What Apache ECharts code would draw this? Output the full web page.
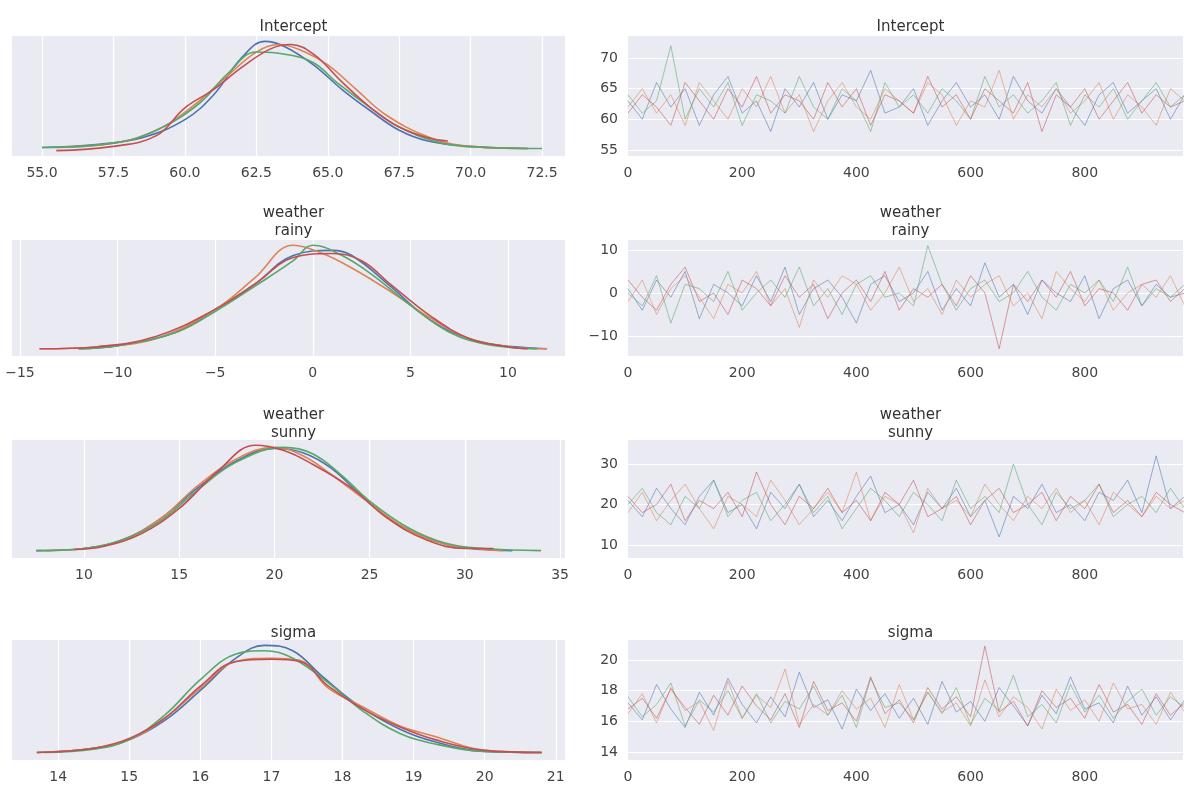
<!DOCTYPE html>
<html>
<head>
<meta charset="utf-8">
<script src="https://cdn.jsdelivr.net/npm/echarts@6/dist/echarts.min.js"></script>
<style>html,body{margin:0;padding:0;background:#fff}#chart{width:1200px;height:801px}</style>
</head>
<body>
<div id="chart"></div>
<script>
// 参数名
const PARAMS = ['Intercept', 'weather\nrainy', 'weather\nsunny', 'sigma'];
const COLORS = ['#4c72b0', '#dd8452', '#55a868', '#c44e52'];

// 密度曲线 [x, 相对高度]，每个参数 4 条链
const densIntercept = [
    [[55,0.01],[57,0.04],[58.5,0.1],[60,0.27],[61,0.5],[62,0.85],[62.8,1.0],[63.5,0.95],[64.5,0.78],[65.5,0.55],[66.5,0.35],[67.5,0.17],[68.5,0.07],[70,0.02],[72,0.0]],
    [[55.5,0.01],[57.5,0.05],[59,0.17],[60.3,0.4],[61.5,0.68],[62.5,0.9],[63.3,0.97],[64.2,0.9],[65,0.78],[66,0.55],[67,0.32],[68.5,0.11],[70,0.02],[72,0.0]],
    [[55,0.01],[57.5,0.05],[59,0.17],[60.5,0.42],[61.5,0.7],[62.5,0.9],[63.5,0.88],[64.5,0.8],[65.3,0.62],[66.5,0.38],[67.5,0.2],[69,0.05],[70.5,0.01],[72.5,0.0]],
    [[55.5,-0.02],[57.5,0.02],[59,0.12],[60,0.38],[61,0.55],[62,0.76],[63,0.93],[63.7,0.97],[64.5,0.88],[65.5,0.62],[66.5,0.38],[67.5,0.2],[68.5,0.1],[69.2,0.07]]
];
const densRainy = [
    [[-12,0],[-10,0.03],[-7,0.16],[-5,0.38],[-3,0.62],[-1,0.9],[1,0.95],[2,0.9],[4,0.6],[5.5,0.35],[7,0.17],[9,0.05],[11,0.01],[12,0]],
    [[-14,0],[-11,0.02],[-8,0.1],[-5,0.38],[-3,0.68],[-1,1.0],[0.5,0.92],[2,0.78],[4,0.55],[6,0.3],[8,0.1],[10,0.02],[12,0]],
    [[-12,0],[-10,0.03],[-7,0.16],[-5,0.36],[-3,0.6],[-1,0.85],[0,1.0],[1.5,0.9],[3,0.72],[5,0.42],[7,0.16],[9,0.04],[11.5,0]],
    [[-14,0],[-11,0.02],[-8,0.12],[-5,0.38],[-3,0.62],[-1,0.88],[1,0.92],[2.5,0.85],[4,0.62],[6,0.32],[8,0.1],[10,0.02],[11,0]]
];
const densSunny = [
    [[7.5,0],[10,0.02],[12,0.1],[14,0.3],[16,0.6],[18,0.85],[20,0.97],[21.5,0.93],[23,0.78],[25,0.45],[27,0.2],[29,0.06],[31,0.01],[32.5,0]],
    [[8,0],[10,0.02],[12,0.1],[14,0.3],[16,0.62],[18,0.87],[20,0.98],[21.5,0.9],[23,0.72],[25,0.45],[27,0.2],[29,0.06],[31,0.01],[32,0]],
    [[7.5,0],[10,0.02],[12,0.1],[14,0.28],[16,0.58],[18,0.84],[20.5,0.98],[22,0.92],[23.5,0.72],[25,0.47],[27,0.22],[29,0.07],[31,0.02],[34,0]],
    [[9.5,0.01],[11,0.04],[13,0.16],[15,0.4],[17,0.75],[19,1.0],[20.5,0.95],[22,0.82],[24,0.6],[26,0.3],[28,0.1],[30,0.02],[31.5,0.02]]
];
const densSigma = [
    [[13.7,0],[14.5,0.04],[15,0.12],[15.5,0.3],[16,0.58],[16.5,0.88],[16.9,1.0],[17.3,0.95],[17.7,0.72],[18.2,0.45],[18.8,0.22],[19.3,0.1],[20,0.01],[20.8,0]],
    [[13.7,0],[14.5,0.04],[15,0.12],[15.5,0.32],[16,0.6],[16.5,0.85],[17,0.88],[17.4,0.86],[17.8,0.6],[18.3,0.42],[18.8,0.25],[19.3,0.15],[20,0.02],[20.8,0]],
    [[13.8,0],[14.5,0.03],[15,0.12],[15.5,0.35],[16,0.68],[16.5,0.92],[16.9,0.95],[17.3,0.88],[17.8,0.65],[18.3,0.38],[18.8,0.18],[19.3,0.08],[20,0.01],[20.8,0]],
    [[13.7,0],[14.5,0.04],[15,0.13],[15.5,0.32],[16,0.62],[16.5,0.85],[17,0.87],[17.4,0.85],[17.8,0.62],[18.3,0.4],[18.8,0.24],[19.3,0.12],[20,0.02],[20.8,0]]
];

// 迹线（抽样值，每 25 次迭代一点）
const TRACE_STEP = 25;
const traceIntercept = [
    [63,60,66,62,65,59,64,67,61,63,58,65,62,66,60,64,63,68,61,62,65,59,63,66,62,64,60,67,63,61,65,62,59,64,66,61,63,65,60,64],
    [62,65,61,64,59,66,63,60,65,62,67,61,64,58,63,66,62,60,65,63,61,66,64,59,63,62,68,60,64,62,65,61,63,66,60,64,62,59,65,63],
    [64,61,63,72,60,65,62,66,59,64,63,61,67,62,60,65,63,58,66,62,64,61,65,63,60,67,62,64,61,63,66,59,64,62,65,60,63,66,62,64],
    [61,64,62,59,66,63,60,65,62,67,61,64,63,60,66,62,65,59,64,63,61,67,62,64,60,65,63,61,66,58,64,62,65,60,63,66,61,64,62,63]
];
const traceRainy = [
    [1,-4,3,-1,5,-6,2,0,-3,4,-2,6,-5,1,3,-1,-7,2,4,-2,0,5,-4,1,-3,7,-1,2,-5,3,0,-2,4,-6,1,3,-3,2,-1,0],
    [-2,3,-5,1,4,-1,-6,2,0,5,-3,1,-8,3,-1,4,2,-4,0,6,-2,1,-5,3,-1,2,4,-3,0,-6,5,1,-2,3,-4,0,2,-1,4,-3],
    [0,-3,4,-7,2,1,-2,5,-4,0,3,-1,6,-3,1,-5,2,4,-1,0,-3,11,2,-4,1,3,-2,0,5,-1,-4,2,0,3,-2,6,-3,1,-1,2],
    [3,-1,-4,2,6,-2,0,-5,3,1,-3,4,-1,2,-6,0,3,-2,5,-4,1,-1,2,-3,4,0,-13,2,-2,3,-1,5,-3,1,0,-4,2,3,-2,1]
];
const traceSunny = [
    [21,17,24,19,15,22,26,18,20,14,23,19,25,17,21,16,22,27,18,20,15,23,19,24,17,21,12,22,19,25,18,20,16,23,21,26,18,32,19,22],
    [18,23,16,21,25,19,14,22,20,17,26,21,15,19,23,18,28,16,22,20,13,24,19,21,17,25,20,16,22,19,24,18,21,15,23,20,17,22,19,21],
    [20,24,18,15,22,19,26,17,21,23,16,20,25,18,22,14,19,24,21,17,23,20,16,26,19,22,18,30,20,15,23,19,21,25,17,20,22,18,24,19],
    [22,18,20,25,16,21,19,23,17,28,20,15,22,19,24,18,21,16,23,20,26,17,19,22,15,21,24,18,20,23,16,22,19,25,18,21,17,23,20,18]
];
const traceSigma = [
    [17.2,16.1,18.4,16.8,15.6,17.9,16.4,18.8,17.1,15.9,17.6,16.3,19.2,16.9,17.4,15.5,18.1,16.7,17.8,16.2,17.5,15.8,18.6,16.6,17.3,16.0,18.2,17.0,15.7,17.7,16.5,18.9,16.8,17.2,15.9,18.3,16.4,17.6,16.1,17.4],
    [16.5,17.8,15.9,18.2,16.7,17.3,15.4,18.6,16.2,17.7,16.9,19.4,15.8,17.1,16.4,18.0,16.8,17.5,15.6,18.4,16.1,17.9,16.6,17.2,15.7,18.7,16.3,17.6,16.9,15.5,18.1,16.7,17.4,16.0,18.5,16.8,17.1,15.8,17.9,16.6],
    [17.6,16.3,17.1,18.5,15.7,17.4,16.6,18.0,16.2,17.8,15.9,17.3,16.8,18.3,16.4,17.7,15.6,18.8,16.9,17.2,16.1,17.9,16.5,18.2,15.8,17.5,16.7,19.0,16.3,17.1,15.9,18.4,16.6,17.7,16.2,17.3,18.1,16.4,17.6,16.9],
    [16.8,17.5,16.2,18.1,16.9,15.8,17.7,16.4,18.3,17.0,16.1,17.8,15.6,18.6,16.7,17.2,16.0,18.9,16.5,17.4,15.9,18.2,16.8,17.6,16.3,20.9,16.6,17.3,15.7,18.0,16.9,17.5,16.2,18.4,16.6,17.1,15.8,17.8,16.4,17.2]
];

// 左侧密度图 x 轴刻度
const densTicks = [
    [55,57.5,60,62.5,65,67.5,70,72.5],
    [-15,-10,-5,0,5,10],
    [10,15,20,25,30,35],
    [14,15,16,17,18,19,20,21]
];
const densRange = [[53.95,73.3],[-15.41,12.92],[6.22,35.26],[13.35,21.13]];
// 右侧迹线 y 轴
const traceRange = [[54.0,73.6],[-14.65,12.3],[6.8,35.9],[13.48,21.3]];
const traceInterval = [5,10,10,2];
const traceTicks = [[55,60,65,70],[-10,0,10],[10,20,30],[14,16,18,20]];

const densAll = [densIntercept, densRainy, densSunny, densSigma];
const traceAll = [traceIntercept, traceRainy, traceSunny, traceSigma];

const rowTops = [36, 240, 440, 640];
const rowHeights = [120, 116, 118, 120];
const titleTops = [13, 199, 401, 619];

const labelStyle = { color: '#444', fontSize: 14, fontFamily: 'DejaVu Sans' };
const grids = [], xAxes = [], yAxes = [], series = [], titles = [];

function fmtTick(v) {
    if (v < 0) return '\u2212' + Math.abs(v);
    return String(v);
}

for (let r = 0; r < 4; r++) {
    // 左：密度
    let gi = grids.length;
    grids.push({ left: 12, top: rowTops[r], width: 553, height: rowHeights[r], show: true, backgroundColor: '#eaeaf2', borderWidth: 0 });
    xAxes.push({
        gridIndex: gi, type: 'value', min: densRange[r][0], max: densRange[r][1],
        axisLine: { show: false }, axisTick: { show: false, customValues: densTicks[r] },
        axisLabel: Object.assign({ customValues: densTicks[r], margin: 10,
            formatter: v => r === 0 ? v.toFixed(1) : fmtTick(v) }, labelStyle),
        splitLine: { show: true, lineStyle: { color: '#fff', width: 1.2 } }
    });
    yAxes.push({ gridIndex: gi, type: 'value', min: -0.07, max: 1.05, show: false, splitLine: { show: false } });
    densAll[r].forEach((d, c) => series.push({
        type: 'line', xAxisIndex: gi, yAxisIndex: gi, data: d, smooth: 0.4, showSymbol: false,
        lineStyle: { color: COLORS[c], width: 1.6 }, z: 3
    }));
    titles.push({ text: PARAMS[r], left: 12 + 553 / 2, top: titleTops[r], textAlign: 'center',
        textStyle: { color: '#333', fontSize: 15, fontWeight: 'normal', fontFamily: 'DejaVu Sans', lineHeight: 18 } });

    // 右：迹线
    gi = grids.length;
    grids.push({ left: 628, top: rowTops[r], width: 555, height: rowHeights[r], show: true, backgroundColor: '#eaeaf2', borderWidth: 0 });
    xAxes.push({
        gridIndex: gi, type: 'value', min: 0, max: 972, interval: 200,
        axisLine: { show: false }, axisTick: { show: false },
        axisLabel: Object.assign({ margin: 10, showMaxLabel: false }, labelStyle),
        splitLine: { show: false }
    });
    yAxes.push({
        gridIndex: gi, type: 'value', min: traceRange[r][0], max: traceRange[r][1],
        axisLine: { show: false }, axisTick: { show: false, customValues: traceTicks[r] },
        axisLabel: Object.assign({ customValues: traceTicks[r], margin: 10, formatter: fmtTick }, labelStyle),
        splitLine: { show: true, lineStyle: { color: '#fff', width: 1.2 } }
    });
    traceAll[r].forEach((vals, c) => series.push({
        type: 'line', xAxisIndex: gi, yAxisIndex: gi,
        data: vals.map((v, i) => [i * TRACE_STEP, v]), showSymbol: false,
        lineStyle: { color: COLORS[c], width: 1, opacity: 0.55 }, z: 3
    }));
    titles.push({ text: PARAMS[r], left: 628 + 555 / 2, top: titleTops[r], textAlign: 'center',
        textStyle: { color: '#333', fontSize: 15, fontWeight: 'normal', fontFamily: 'DejaVu Sans', lineHeight: 18 } });
}

const chart = echarts.init(document.getElementById('chart'));
chart.setOption({
    animation: false,
    title: titles,
    grid: grids,
    xAxis: xAxes,
    yAxis: yAxes,
    series: series
});
</script>
</body>
</html>
